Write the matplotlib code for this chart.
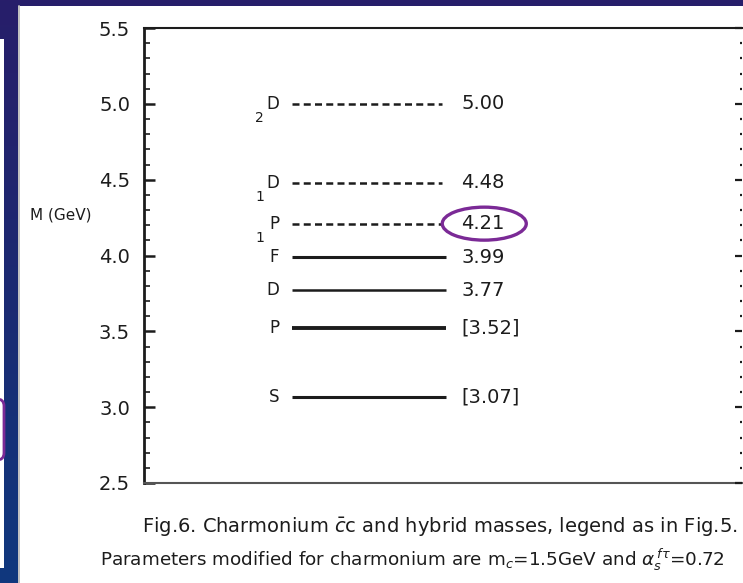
import numpy as np
import matplotlib
matplotlib.use("Agg")
import matplotlib.pyplot as plt
from matplotlib.colors import LinearSegmentedColormap
from matplotlib.patches import Ellipse, Rectangle, FancyBboxPatch
from matplotlib.ticker import MultipleLocator

# charmonium / hybrid levels (GeV)
levels = [3.07, 3.52, 3.77, 3.99, 4.21, 4.48, 5.00]
letters = ["S", "P", "D", "F", "P", "D", "D"]
subscripts = ["", "", "", "", "1", "1", "2"]
value_labels = ["[3.07]", "[3.52]", "3.77", "3.99", "4.21", "4.48", "5.00"]
hybrid = [False, False, False, False, True, True, True]

highlight = "4.21"

caption1 = "Fig.6. Charmonium $\\bar{c}$c and hybrid masses, legend as in Fig.5."
caption2 = "Parameters modified for charmonium are m$_c$=1.5GeV and $\\alpha_s^{\\,f\\tau}$=0.72"

W, H = 743, 583
fig = plt.figure(figsize=(W / 100, H / 100), dpi=100)

# slide background, in pixel units (y down)
bg = fig.add_axes([0, 0, 1, 1])
bg.set_axis_off()
bg.set_xlim(0, W)
bg.set_ylim(H, 0)
slide = LinearSegmentedColormap.from_list("slide", ["#271e6a", "#1c2a72", "#10387e"])
bg.imshow(np.linspace(0, 1, 256).reshape(-1, 1), aspect="auto", cmap=slide,
          extent=(0, W, H, 0), zorder=0)
bg.add_patch(Rectangle((18, 6), W - 18, H - 6, fc="white", ec="none", zorder=1))
bg.plot([18.5, 18.5], [6, H], color="#b5b5b5", lw=1.2, zorder=2)
bg.add_patch(Rectangle((0, 39), 4, 529, fc="white", ec="none", zorder=1))
bg.add_patch(FancyBboxPatch((-30, 399), 34, 61, boxstyle="round,pad=0,rounding_size=7",
                            fc="none", ec="#7b2a96", lw=2, zorder=3))

ax = fig.add_axes([144 / W, (H - 483) / H, (742 - 144) / W, (483 - 28) / H])
ax.patch.set_alpha(0)
ax.set_xlim(0, 1)
ax.set_ylim(2.5, 5.5)

ink = "#1c1c1c"
solid_lw = [2.2, 2.8, 1.8, 2.2]
for i, (y, let, sub, lab, hyb) in enumerate(zip(levels, letters, subscripts, value_labels, hybrid)):
    if hyb:
        ax.plot([0.2475, 0.499], [y, y], color=ink, lw=1.8, ls=(0, (2.8, 1.7)),
                solid_capstyle="butt", dash_capstyle="butt")
    else:
        ax.plot([0.2475, 0.505], [y, y], color=ink, lw=solid_lw[i], solid_capstyle="butt")
    ax.text(0.226, y, let, ha="right", va="center", fontsize=12, color=ink)
    if sub:
        ax.annotate(sub, (0.226, y), xytext=(-11, -10), textcoords="offset points",
                    ha="right", va="center", fontsize=10, color=ink)
    ax.text(0.531, y, lab, ha="left", va="center", fontsize=14, color=ink)
    if lab == highlight:
        ax.add_patch(Ellipse((0.569, y), 0.1405, 0.2175, fill=False,
                             ec="#7b2a96", lw=2.4, zorder=5))

ax.yaxis.set_major_locator(MultipleLocator(0.5))
ax.yaxis.set_minor_locator(MultipleLocator(0.1))
ax.set_yticklabels([f"{v:.1f}" for v in ax.get_yticks()])
ax.set_xticks([])
ax.tick_params(axis="y", which="major", direction="in", length=8, width=1.8,
               labelsize=14, pad=10, colors=ink)
ax.tick_params(axis="y", which="minor", direction="in", length=4, width=1.2, colors=ink)

# right edge: dotted minor ticks only, no spine
rax = ax.twinx()
rax.set_ylim(ax.get_ylim())
rax.yaxis.set_major_locator(MultipleLocator(0.5))
rax.yaxis.set_minor_locator(MultipleLocator(0.1))
rax.set_yticklabels([])
rax.tick_params(axis="y", which="major", direction="in", length=5, width=1.6, colors=ink)
rax.tick_params(axis="y", which="minor", direction="in", length=1.5, width=1.6, colors=ink)
for a in (ax, rax):
    for s in ("left", "right", "top", "bottom"):
        a.spines[s].set_visible(False)
ax.spines["left"].set_visible(True)
ax.spines["left"].set_linewidth(2)
ax.spines["top"].set_visible(True)
ax.spines["top"].set_linewidth(1.5)
ax.spines["bottom"].set_visible(True)
ax.spines["bottom"].set_linewidth(1.5)
ax.spines["bottom"].set_color("#555555")
for s in ("left", "top"):
    ax.spines[s].set_color(ink)

ax.set_ylabel("M (GeV)", rotation=0, fontsize=11, color=ink, ha="center", va="center")
ax.yaxis.set_label_coords(-0.139, 0.589)

fig.text(440 / W, 1 - 527 / H, caption1, ha="center", va="center", fontsize=14, color=ink)
fig.text(100 / W, 1 - 560 / H, caption2, ha="left", va="center", fontsize=13.2, color=ink)

fig.savefig("out.png", dpi=100)
